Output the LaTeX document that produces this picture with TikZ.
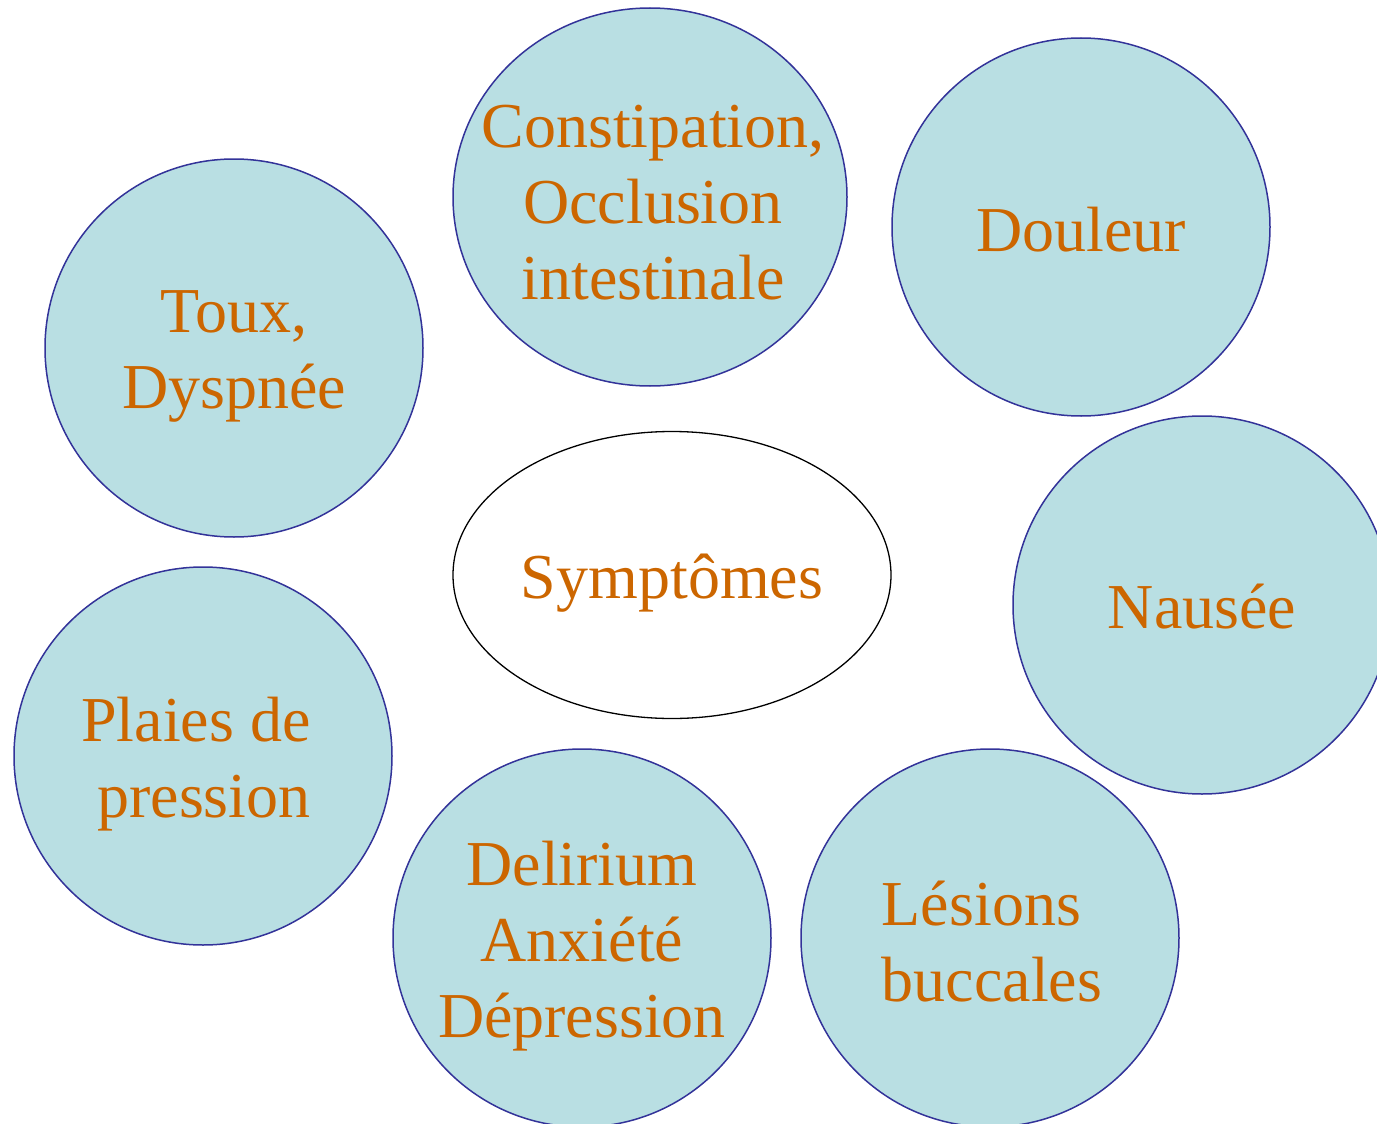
\documentclass[tikz,border=0pt]{standalone}
\usepackage{fontspec}
\setmainfont{Liberation Serif}
\usetikzlibrary{shapes.geometric}
\definecolor{bubblefill}{HTML}{B9DFE3}
\definecolor{bubbleline}{HTML}{333399}
\definecolor{labeltext}{HTML}{CC6600}
\begin{document}
\begin{tikzpicture}[x=1pt,y=-1pt,
  bubble/.style={ellipse, draw=bubbleline, fill=bubblefill, line width=1.5pt,
    minimum width=378pt, minimum height=378pt, inner sep=0pt},
  centre/.style={ellipse, draw=black, line width=1.3pt, minimum width=438pt,
    minimum height=287pt, inner sep=0pt},
  txt/.style={text=labeltext, align=center, inner sep=0pt,
    font=\fontsize{64}{76}\selectfont}]
\useasboundingbox (0,0) rectangle (1377,1124);
\clip (0,0) rectangle (1377,1124);
\node[bubble, minimum width=394pt] (constip) at (650,197) {};
\node[bubble] (douleur) at (1081,227) {};
\node[bubble] (toux) at (234,348) {};
\node[bubble] (nausee) at (1202,605) {};
\node[bubble] (plaies) at (203,756) {};
\node[bubble] (delirium) at (582,938) {};
\node[bubble] (lesions) at (990,938) {};
\node[centre] (sympt) at (672,575) {};
\node[txt, yshift=-6pt, xshift=3pt] (constipT) at (constip) {Constipation,\\Occlusion\\intestinale};
\node[txt, yshift=-3pt] (douleurT) at (douleur) {Douleur};
\node[txt, yshift=-8pt] (touxT) at (toux) {Toux,\\Dyspnée};
\node[txt, yshift=-2pt] (nauseeT) at (nausee) {Nausée};
\node[txt, align=right, yshift=-8pt, xshift=-7pt] (plaiesT) at (plaies) {Plaies de\\pression};
\node[txt, yshift=-8pt] (deliriumT) at (delirium) {Delirium\\Anxiété\\Dépression};
\node[txt, align=left, yshift=-4pt, xshift=2pt] (lesionsT) at (lesions) {Lésions\\buccales};
\node[txt, yshift=-8pt] (symptT) at (sympt) {Symptômes};
\end{tikzpicture}
\end{document}
